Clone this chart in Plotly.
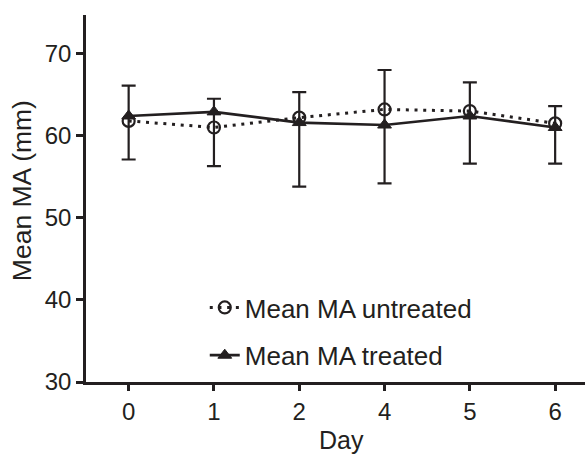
import plotly.graph_objects as go

# Mean MA per day, with error extents (treated drawn above, untreated below)
days = ["0", "1", "2", "4", "5", "6"]
untreated = [61.8, 61.0, 62.2, 63.2, 63.0, 61.5]
treated = [62.4, 62.9, 61.6, 61.3, 62.4, 61.0]
treated_err = [3.7, 1.6, 3.7, 6.7, 4.1, 2.6]
untreated_err = [4.7, 4.7, 8.4, 9.0, 6.4, 4.9]

INK = "#231f20"
FONT = "Liberation Sans, Arial, sans-serif"

# one bar per day: from the untreated lower end up to the treated upper end
bar_down = [t - (u - e) for t, u, e in zip(treated, untreated, untreated_err)]

fig = go.Figure()

fig.add_trace(go.Scatter(
    x=days, y=untreated, name="Mean MA untreated",
    mode="lines+markers", legendgroup="u",
    line=dict(color=INK, width=3, dash="3px,5.7px"),
    marker=dict(symbol="circle-open", size=12, color=INK, line=dict(width=2.2, color=INK)),
))

fig.add_trace(go.Scatter(
    x=days, y=treated, name="Mean MA treated",
    mode="lines+markers", legendgroup="t",
    line=dict(color=INK, width=2.7),
    marker=dict(symbol="triangle-up", size=12, color=INK, line=dict(width=1, color=INK)),
    error_y=dict(type="data", symmetric=False, array=treated_err, arrayminus=bar_down,
                 color=INK, thickness=2.2, width=7),
))

axis_common = dict(
    showline=True, linecolor=INK, linewidth=2.6,
    ticks="outside", tickcolor=INK, tickwidth=2.6,
    showgrid=False, zeroline=False,
    tickfont=dict(family=FONT, size=24, color=INK),
)

fig.update_xaxes(type="category", range=[-0.5, 5.35], ticklen=6, **axis_common)
fig.update_yaxes(range=[30, 74.7], tickvals=[30, 40, 50, 60, 70], ticklen=7, **axis_common)

fig.add_annotation(
    text="Day", xref="x", yref="paper", x=2.5, y=0, yanchor="top", yshift=-42,
    showarrow=False, font=dict(family=FONT, size=25, color=INK),
)
fig.add_annotation(
    text="Mean MA (mm)", xref="paper", yref="paper", x=0, y=0.52, xanchor="right",
    xshift=-47, textangle=-90, showarrow=False,
    font=dict(family=FONT, size=26.5, color=INK),
)

fig.update_layout(
    width=585, height=454,
    margin=dict(l=86, r=0, t=15, b=72),
    paper_bgcolor="white", plot_bgcolor="white",
    showlegend=True,
    legend=dict(
        x=0.238, y=0.267, xanchor="left", yanchor="top",
        font=dict(family=FONT, size=26, color=INK),
        bgcolor="rgba(0,0,0,0)", tracegroupgap=11, traceorder="grouped",
    ),
)

fig.write_html("out.html")
